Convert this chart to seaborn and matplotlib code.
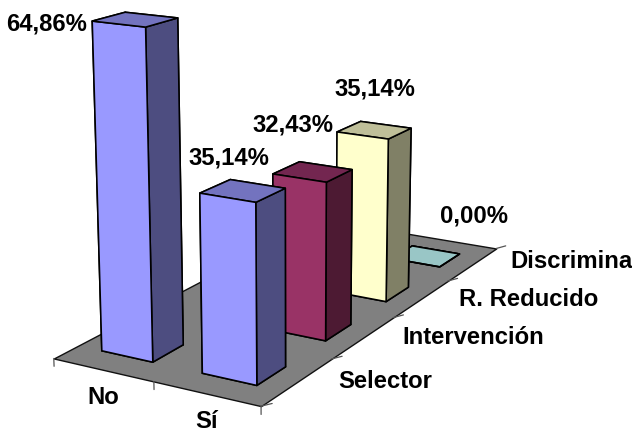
import numpy as np
import seaborn as sns
import matplotlib
matplotlib.use("Agg")
import matplotlib.pyplot as plt
from mpl_toolkits.mplot3d.art3d import Poly3DCollection

sns.set_theme(style="white")
plt.rcParams['font.family'] = ['Liberation Sans', 'DejaVu Sans']

categories = ["No", "Sí"]
series = ["Selector", "Intervención", "R. Reducido", "Discrimina"]
no_values = [64.86, np.nan, np.nan, np.nan]
si_values = [35.14, 32.43, 35.14, 0.00]

# front, top, side colour of each series
front_colors = ["#9999ff", "#993366", "#ffffcc", "#ccffff"]
top_colors = ["#7373bf", "#732650", "#bfbf99", "#99c6c6"]
side_colors = ["#4d4d80", "#4d1a33", "#808066", "#668080"]

# pixel positions of the texts in the picture
no_si_pos = [(103, 398), (207, 422)]
series_pos = [(385, 382), (473, 337), (529, 299), (571, 262)]
no_label_pos = (47, 24)
si_label_pos = [(229, 158), (293, 125), (375, 89), (474, 216)]

W_PX, H_PX = 632, 432
BAR_A, BAR_B = 0.2423, 0.2994  # gaps around the bars

fig = plt.figure(figsize=(W_PX / 100, H_PX / 100), dpi=100)
ax = fig.add_subplot(projection='3d')
ax.set_xlim(0, 2)
ax.set_ylim(0, 4)
ax.set_zlim(0, 70)
ax.set_proj_type('persp', focal_length=0.5103)
ax.view_init(14.37, -60.177)
ax.set_box_aspect((1.9825, 4.4984, 2.9995))
ax.set_position([-31.29 / W_PX, 1 - (-171.5 + 635.02) / H_PX, 635.02 / W_PX, 635.02 / H_PX])
ax.set_axis_off()
ax.computed_zorder = False

# floor
floor = Poly3DCollection([[(0, 0, 0), (2, 0, 0), (2, 4, 0), (0, 4, 0)]], facecolor="#808080",
                         edgecolor="#111111", linewidth=1.0, zorder=0)
ax.add_collection3d(floor)

# tick marks
for i in range(3):
    ax.plot([i, i], [0, 0], [0, -1.6], color="#555555", lw=0.9, zorder=1)
for j in range(5):
    ax.plot([2, 2.1], [j, j], [0, 1.0], color="#555555", lw=0.9, zorder=1)


def draw_bar(i, j, v, z):
    # bar3d face order: bottom, top, front, back, left, right
    cols = [top_colors[j], top_colors[j], front_colors[j], front_colors[j], side_colors[j], side_colors[j]]
    ax.bar3d(i + BAR_A, j + BAR_B, 0, 1 - 2 * BAR_A, 1 - 2 * BAR_B, v, color=cols, shade=False,
             edgecolor="black", linewidth=1.15, zorder=z)


# back to front
for j in range(len(series) - 1, -1, -1):
    z = 10 + (len(series) - j) * 2
    draw_bar(1, j, si_values[j], z)
    if not np.isnan(no_values[j]):
        draw_bar(0, j, no_values[j], z + 1)


def put_text(pos, s):
    fig.text(pos[0] / W_PX, 1 - pos[1] / H_PX, s, ha='center', va='center',
             fontsize=17.2, fontweight='bold', color='black')


def fmt(v):
    return f"{v:.2f}%".replace('.', ',')


for name, pos in zip(categories, no_si_pos):
    put_text(pos, name)
for name, pos in zip(series, series_pos):
    put_text(pos, name)
put_text(no_label_pos, fmt(no_values[0]))
for v, pos in zip(si_values, si_label_pos):
    put_text(pos, fmt(v))

fig.savefig('out.png', dpi=100)
